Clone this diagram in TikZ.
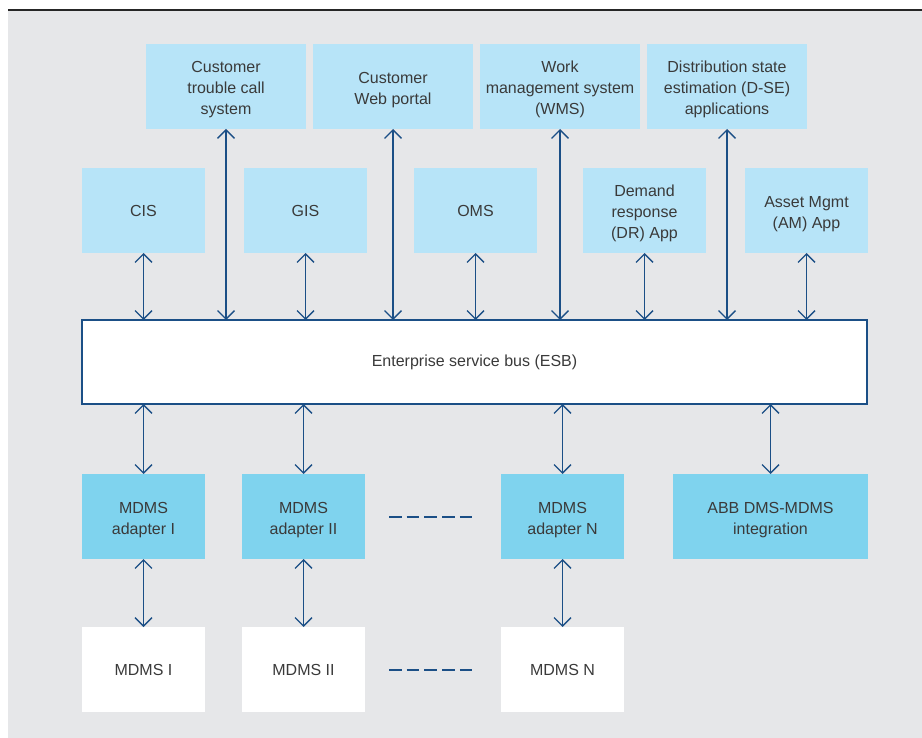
\documentclass[tikz,border=0pt]{standalone}
\usepackage{fontspec}
\setmainfont{Liberation Sans}
\usetikzlibrary{arrows.meta}
\definecolor{bggray}{HTML}{E6E7E9}
\definecolor{lightblue}{HTML}{B7E4F8}
\definecolor{cyanbox}{HTML}{7FD3EE}
\definecolor{arrowblue}{HTML}{1B4F86}
\definecolor{txtgray}{HTML}{3A3A3A}
\newcommand\mlstrut{\rule{0pt}{17.6pt}}
\newcommand\slstrut{\rule{0pt}{13pt}}
\tikzset{
  box/.style={inner sep=0pt, outer sep=0pt, align=center, text=txtgray,
    font=\fontsize{16}{21}\selectfont},
  topbox/.style={box, fill=lightblue, minimum width=160pt, minimum height=85pt},
  appbox/.style={box, fill=lightblue, minimum width=123pt, minimum height=85pt},
  adbox/.style={box, fill=cyanbox, minimum width=123pt, minimum height=85pt},
  dbbox/.style={box, fill=white, minimum width=123pt, minimum height=85pt},
  link/.style={draw=arrowblue, line width=1.4pt,
    {Straight Barb[length=8.5pt,width=17pt,line width=1.4pt]}-{Straight Barb[length=8.5pt,width=17pt,line width=1.4pt]}},
  dashline/.style={draw=arrowblue, line width=1.3pt, dash pattern=on 12.5pt off 5.2pt}
}
\begin{document}
\begin{tikzpicture}[x=1pt,y=-1pt]
\useasboundingbox (0,0) rectangle (922,738);
\fill[bggray] (8,10) rectangle (922,738);
\draw[line width=1.4pt, black!85] (8,10) -- (922,10);

% top row
\node[topbox] (ctc) at (226,86.5) {\mlstrut Customer\\trouble call\\system};
\node[topbox] (cwp) at (393,86.5) {\mlstrut Customer\\Web portal};
\node[topbox] (wms) at (560,86.5) {\mlstrut Work\\management system\\(WMS)};
\node[topbox] (dse) at (727,86.5) {\mlstrut Distribution state\\estimation (D-SE)\\applications};

% second row
\node[appbox] (cis) at (143.5,210.5) {\slstrut CIS};
\node[appbox] (gis) at (305.5,210.5) {\slstrut GIS};
\node[appbox] (oms) at (475.5,210.5) {\slstrut OMS};
\node[appbox] (dr) at (644.5,210.5) {\mlstrut Demand\\response\\(DR) App};
\node[appbox] (am) at (806.5,210.5) {\mlstrut Asset Mgmt\\(AM) App};

% ESB
\node[box, fill=white, draw=arrowblue, line width=1.3pt, minimum width=785pt, minimum height=84pt] (esb) at (474.5,362) {\slstrut Enterprise service bus (ESB)};

% adapters
\node[adbox] (ad1) at (143.5,516.5) {\mlstrut MDMS\\adapter I};
\node[adbox] (ad2) at (303.5,516.5) {\mlstrut MDMS\\adapter II};
\node[adbox] (adn) at (562.5,516.5) {\mlstrut MDMS\\adapter N};
\node[adbox, minimum width=195pt] (abb) at (770.5,516.5) {\mlstrut ABB DMS-MDMS\\integration};

% MDMS
\node[dbbox] (m1) at (143.5,669.5) {\slstrut MDMS I};
\node[dbbox] (m2) at (303.5,669.5) {\slstrut MDMS II};
\node[dbbox] (mn) at (562.5,669.5) {\slstrut MDMS N};

% links
\foreach \n in {ctc,cwp,wms,dse}{
  \draw[link] (\n.south) -- (\n.south |- esb.north);
}
\foreach \n in {cis,gis,oms,dr,am}{
  \draw[link] (\n.south) -- (\n.south |- esb.north);
}
\foreach \n in {ad1,ad2,adn,abb}{
  \draw[link] (\n.north |- esb.south) -- (\n.north);
}
\draw[link] (ad1.south) -- (m1.north);
\draw[link] (ad2.south) -- (m2.north);
\draw[link] (adn.south) -- (mn.north);

% dashes
\coordinate (d1a) at (389,517);
\coordinate (d1b) at (473,517);
\coordinate (d2a) at (389,670);
\coordinate (d2b) at (473,670);
\draw[dashline] (d1a) -- (d1b);
\draw[dashline] (d2a) -- (d2b);
\end{tikzpicture}
\end{document}
